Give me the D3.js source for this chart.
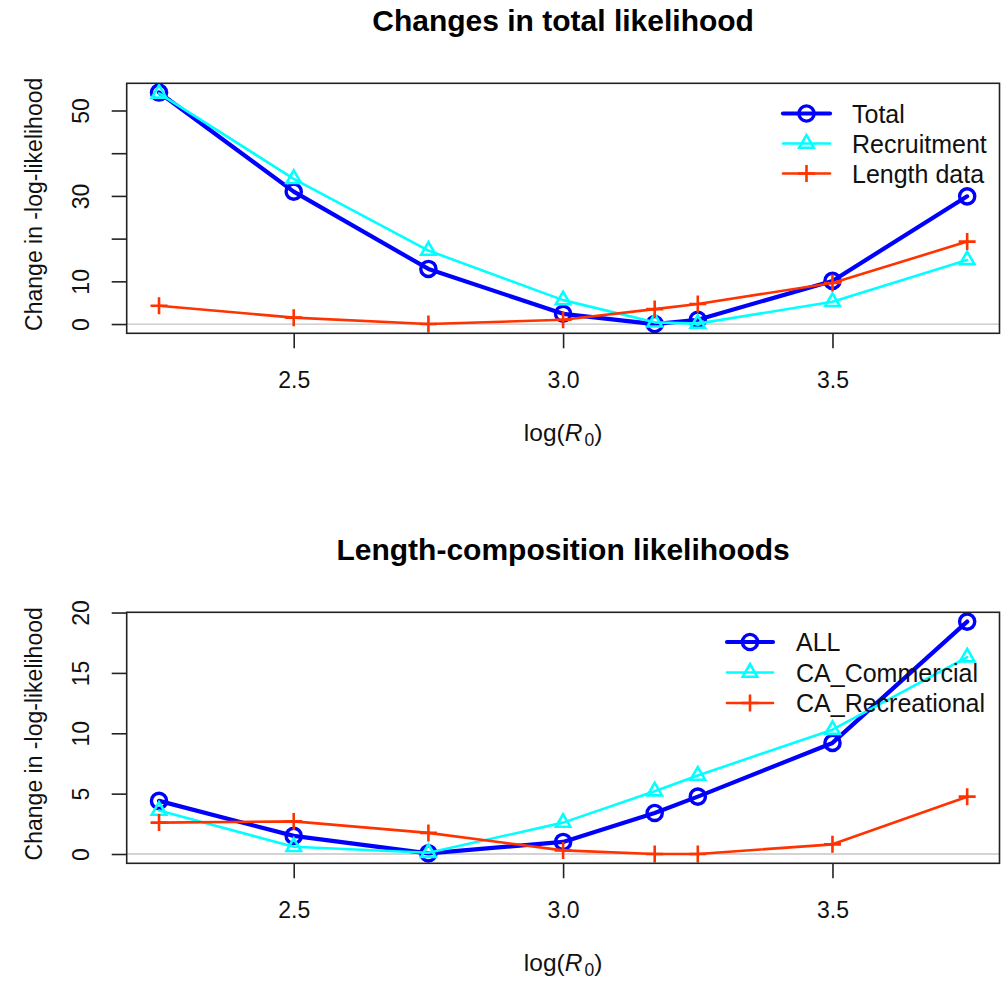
<!DOCTYPE html>
<html>
<head>
<meta charset="utf-8">
<script src="https://cdn.jsdelivr.net/npm/d3@7"></script>
<style>
  html, body { margin: 0; padding: 0; background: #fff; }
  svg { display: block; font-family: "Liberation Sans", Arial, sans-serif; }
</style>
</head>
<body>
<svg id="chart" width="1002" height="985"></svg>
<script>
// ---- data ----
const logR0 = [2.25, 2.5, 2.75, 3.0, 3.17, 3.25, 3.5, 3.75];

const totalLike = [54.2, 31.0, 12.9, 2.4, 0.0, 1.0, 10.1, 29.9];
const recruitLike = [54.0, 34.0, 17.2, 5.6, 0.4, 0.1, 5.2, 15.0];
const lengthLike = [4.3, 1.5, 0.0, 1.0, 3.5, 4.7, 9.6, 19.3];

const allLen = [4.4, 1.5, 0.05, 1.0, 3.4, 4.75, 9.2, 19.25];
const caCommercial = [3.6, 0.6, 0.1, 2.6, 5.2, 6.5, 10.3, 16.3];
const caRecreational = [2.6, 2.7, 1.75, 0.3, 0.0, 0.0, 0.8, 4.75];

const xTicks = [2.5, 3.0, 3.5];
const xTickLabels = ["2.5", "3.0", "3.5"];
const yTicksTop = [0, 10, 20, 30, 40, 50];
const yLabelsTop = ["0", "10", "", "30", "", "50"];
const yTicksBottom = [0, 5, 10, 15, 20];
const yLabelsBottom = ["0", "5", "10", "15", "20"];

const titles = ["Changes in total likelihood", "Length-composition likelihoods"];
const topNames = ["Total", "Recruitment", "Length data"];
const bottomNames = ["ALL", "CA_Commercial", "CA_Recreational"];

// ---- styles ----
const BLUE = "#0000ff", CYAN = "#00ffff", RED = "#ff3300";
const styles = [
  { color: BLUE, width: 4.2, sym: "circle" },
  { color: CYAN, width: 2.6, sym: "triangle" },
  { color: RED, width: 2.6, sym: "plus" }
];

const svg = d3.select("#chart");

function padExtent(vals) {
  const lo = d3.min(vals), hi = d3.max(vals);
  const r = hi - lo;
  return [lo - 0.04 * r, hi + 0.04 * r];
}

function drawSymbol(g, type, x, y, color) {
  if (type === "circle") {
    g.append("circle").attr("cx", x).attr("cy", y).attr("r", 7.6)
      .attr("fill", "none").attr("stroke", color).attr("stroke-width", 3.4);
  } else if (type === "triangle") {
    const s = 14.5, h = s * Math.sqrt(3) / 2;
    const pts = [[x, y - 2 * h / 3], [x - s / 2, y + h / 3], [x + s / 2, y + h / 3]];
    g.append("path").attr("d", d3.line()(pts) + "Z")
      .attr("fill", "none").attr("stroke", color).attr("stroke-width", 2.6)
      .attr("stroke-linejoin", "miter");
  } else {
    const a = 8.5;
    g.append("path").attr("d", `M${x - a},${y}H${x + a}M${x},${y - a}V${y + a}`)
      .attr("stroke", color).attr("stroke-width", 2.6).attr("fill", "none");
  }
}

function panel(opts) {
  const { top, bottom, left, right, series, names, yTicks, yLabels, title, legend } = opts;
  const g = svg.append("g");
  const x = d3.scaleLinear().domain(padExtent(logR0)).range([left, right]);
  const y = d3.scaleLinear().domain(padExtent(series.flat())).range([bottom, top]);

  // zero reference line
  g.append("line").attr("x1", left).attr("x2", right)
    .attr("y1", y(0)).attr("y2", y(0))
    .attr("stroke", "#c4c4c4").attr("stroke-width", 1.3);

  // series
  series.forEach((vals, i) => {
    const st = styles[i];
    const pts = logR0.map((v, k) => [x(v), y(vals[k])]);
    g.append("path").attr("d", d3.line()(pts))
      .attr("fill", "none").attr("stroke", st.color).attr("stroke-width", st.width)
      .attr("stroke-linejoin", "round").attr("stroke-linecap", "round");
    pts.forEach(p => drawSymbol(g, st.sym, p[0], p[1], st.color));
  });

  // box
  g.append("rect").attr("x", left).attr("y", top)
    .attr("width", right - left).attr("height", bottom - top)
    .attr("fill", "none").attr("stroke", "#222").attr("stroke-width", 1.6);

  // x axis
  const xa = g.append("g").attr("transform", `translate(0,${bottom})`)
    .call(d3.axisBottom(x).tickValues(xTicks).tickFormat((d, i) => xTickLabels[i])
      .tickSize(15).tickSizeOuter(0));
  xa.select(".domain").remove();
  xa.selectAll(".tick line").attr("stroke", "#222").attr("stroke-width", 1.6);
  xa.selectAll(".tick text").attr("font-size", 23).attr("fill", "#111")
    .attr("dy", null).attr("y", 54.5);

  // y axis
  const ya = g.append("g").attr("transform", `translate(${left},0)`)
    .call(d3.axisLeft(y).tickValues(yTicks).tickFormat((d, i) => yLabels[i])
      .tickSize(15).tickSizeOuter(0));
  ya.select(".domain").remove();
  ya.selectAll(".tick line").attr("stroke", "#222").attr("stroke-width", 1.6);
  ya.selectAll(".tick text").attr("font-size", 23).attr("fill", "#111")
    .attr("x", null).attr("dy", null)
    .attr("text-anchor", "middle")
    .attr("transform", "translate(-38,0) rotate(-90)");

  // title
  g.append("text").attr("x", (left + right) / 2).attr("y", top - 52)
    .attr("text-anchor", "middle").attr("font-weight", "bold")
    .attr("font-size", 30).attr("fill", "#000").text(title);

  // y label
  const cy = (top + bottom) / 2 - 4;
  g.append("text").attr("transform", `translate(42,${cy}) rotate(-90)`)
    .attr("text-anchor", "middle").attr("font-size", 23).attr("fill", "#111")
    .text("Change in -log-likelihood");

  // x label log(R0)
  const xl = g.append("text").attr("x", (left + right) / 2).attr("y", bottom + 108)
    .attr("text-anchor", "middle").attr("font-size", 24.5).attr("fill", "#111");
  xl.append("tspan").text("log(");
  xl.append("tspan").attr("font-style", "italic").text("R");
  xl.append("tspan").attr("font-size", 17.5).attr("dy", 5).attr("dx", 2).text("0");
  xl.append("tspan").attr("dy", -5).text(")");

  // legend
  names.forEach((nm, i) => {
    const st = styles[i];
    const ly = legend.y + i * legend.dy;
    g.append("line").attr("x1", legend.x1).attr("x2", legend.x2)
      .attr("y1", ly).attr("y2", ly)
      .attr("stroke", st.color).attr("stroke-width", st.width).attr("stroke-linecap", "round");
    drawSymbol(g, st.sym, (legend.x1 + legend.x2) / 2, ly, st.color);
    g.append("text").attr("x", legend.tx).attr("y", ly + 9)
      .attr("font-size", 25).attr("fill", "#111").text(nm);
  });
}

panel({
  top: 83.3, bottom: 333.3, left: 126.7, right: 999.5,
  series: [totalLike, recruitLike, lengthLike], names: topNames,
  yTicks: yTicksTop, yLabels: yLabelsTop, title: titles[0],
  legend: { x1: 783, x2: 830, tx: 852, y: 113.5, dy: 30 }
});

panel({
  top: 612.3, bottom: 863.3, left: 126.7, right: 999.5,
  series: [allLen, caCommercial, caRecreational], names: bottomNames,
  yTicks: yTicksBottom, yLabels: yLabelsBottom, title: titles[1],
  legend: { x1: 727, x2: 773, tx: 796, y: 642, dy: 30.5 }
});
</script>
</body>
</html>
